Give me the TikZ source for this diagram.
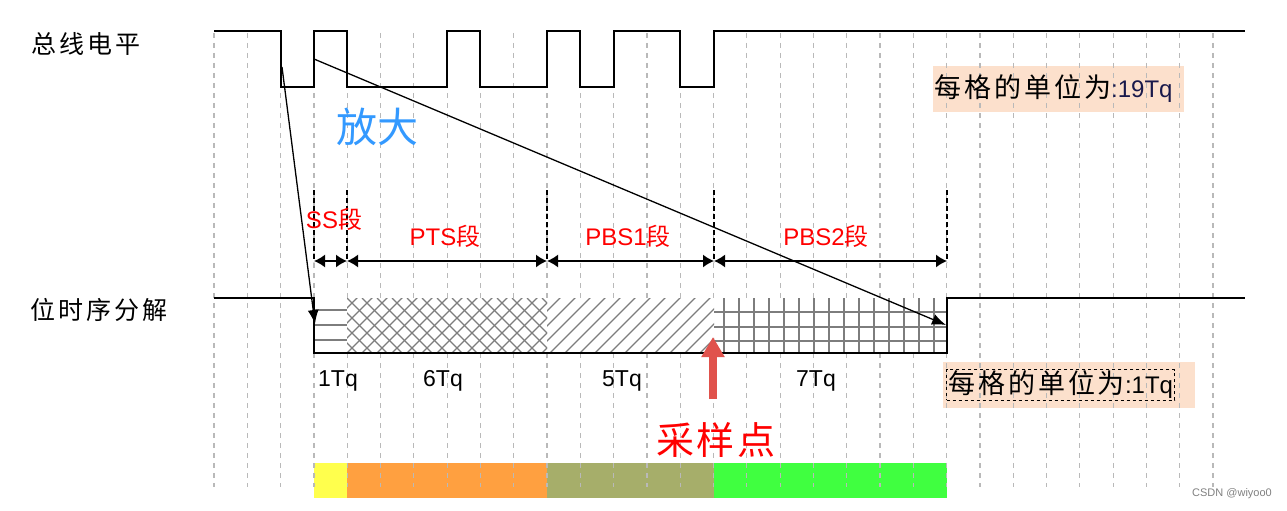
\documentclass[tikz,border=0pt]{standalone}
\usepackage{fontspec}
\setmainfont{Liberation Sans}
\newfontfamily\cjk{Noto Sans CJK SC}
\usetikzlibrary{arrows.meta}
\definecolor{peach}{RGB}{252,224,204}
\definecolor{gridgray}{RGB}{185,185,185}
\definecolor{hatchgray}{RGB}{125,125,125}
\definecolor{bblue}{RGB}{51,153,255}
\definecolor{arrowred}{RGB}{224,82,76}
\definecolor{cyellow}{RGB}{255,255,77}
\definecolor{corange}{RGB}{255,160,64}
\definecolor{colive}{RGB}{166,174,106}
\definecolor{cgreen}{RGB}{64,255,64}
\definecolor{navy}{RGB}{25,25,75}
\newcommand\myg{\kern3pt}
\begin{document}
\begin{tikzpicture}[x=1pt,y=-1pt,
  gridline/.style={gridgray, line width=1.2pt, dash pattern=on 5pt off 5pt},
  marker/.style={black, line width=1.3pt, dash pattern=on 5pt off 3pt},
  signal/.style={black, line width=2pt},
  hatch/.style={hatchgray, line width=1.1pt},
  dim/.style={black, line width=1.5pt, {Latex[length=11pt,width=13pt]}-{Latex[length=11pt,width=13pt]}},
  zoomline/.style={black, line width=1.3pt, -{Latex[length=14pt,width=11pt]}},
  seglabel/.style={text=red, font=\fontsize{24}{24}\selectfont, inner sep=0pt},
  tqlabel/.style={font=\fontsize{23}{23}\selectfont, inner sep=0pt},
  sidelabel/.style={font=\cjk\fontsize{25}{25}\selectfont, inner sep=0pt, anchor=west},
  unitlabel/.style={font=\fontsize{27}{27}\selectfont, inner sep=0pt},
]
\useasboundingbox (0,0) rectangle (1287,511);
% background boxes
\fill[peach] (933,66) rectangle (1184,112);
\fill[peach] (943,362) rectangle (1195,408);
% colour bar
\fill[cyellow] (314,463) rectangle (347,498);
\fill[corange] (347,463) rectangle (547,498);
\fill[colive] (547,463) rectangle (714,498);
\fill[cgreen] (714,463) rectangle (947,498);
% grid
\foreach \k in {0,...,30} \draw[gridline] ({214+33.3*\k},33) -- ({214+33.3*\k},487);
% bit area
\fill[white] (314,298) rectangle (947,353);
\foreach \yy in {310,325,340} \draw[hatch] (314,\yy) -- (347,\yy);
\begin{scope}
\clip (347,298) rectangle (547,353);
\foreach \i in {0,...,18} {
  \draw[hatch] ({287+15*\i},353) -- ++(60,-60);
  \draw[hatch] ({287+15*\i},298) -- ++(60,60);
}
\end{scope}
\begin{scope}
\clip (547,298) rectangle (714,353);
\foreach \i in {0,...,15} \draw[hatch] ({490+15*\i},353) -- ++(60,-60);
\end{scope}
\foreach \i in {0,...,14} \draw[hatch] ({724+15*\i},298) -- ({724+15*\i},353);
\foreach \yy in {312,327,341} \draw[hatch] (714,\yy) -- (947,\yy);
% signals
\draw[signal] (214,31) -- (281,31) -- (281,87) -- (314,87) -- (314,31) -- (347,31) -- (347,87)
  -- (447,87) -- (447,31) -- (480,31) -- (480,87) -- (547,87) -- (547,31) -- (580,31) -- (580,87)
  -- (614,87) -- (614,31) -- (680,31) -- (680,87) -- (714,87) -- (714,31) -- (1245,31);
\draw[signal] (214,298) -- (314,298) -- (314,353) -- (947,353) -- (947,298) -- (1245,298);
% segment markers
\foreach \xx in {314,347,547,714,947} \draw[marker] (\xx,190) -- (\xx,262);
\coordinate (b0) at (314,261);
\coordinate (b1) at (347,261);
\coordinate (b2) at (547,261);
\coordinate (b3) at (714,261);
\coordinate (b4) at (947,261);
\draw[dim] (b0) -- (b1);
\draw[dim] (b1) -- (b2);
\draw[dim] (b2) -- (b3);
\draw[dim] (b3) -- (b4);
% zoom lines
\coordinate (z1s) at (282,67);
\coordinate (z1e) at (315,324);
\coordinate (z2s) at (314,59);
\coordinate (z2e) at (946,325);
\draw[zoomline] (z1s) -- (z1e);
\draw[zoomline] (z2s) -- (z2e);
% labels
\node[sidelabel] (bus) at (31,44) {总\myg 线\myg 电\myg 平};
\node[sidelabel] (bit) at (30,310) {位\myg 时\myg 序\myg 分\myg 解};
\node[text=bblue, font=\cjk\fontsize{41}{41}\selectfont, inner sep=0pt] (zoom) at (377,127) {放大};
\node[seglabel] (ss) at (334,219) {SS{\cjk 段}};
\node[seglabel] (pts) at (445,236) {PTS{\cjk 段}};
\node[seglabel] (pbs1) at (628,236) {PBS1{\cjk 段}};
\node[seglabel] (pbs2) at (826,236) {PBS2{\cjk 段}};
\node[tqlabel] (t1) at (338,381) {1Tq};
\node[tqlabel] (t6) at (443,381) {6Tq};
\node[tqlabel] (t5) at (622,381) {5Tq};
\node[tqlabel] (t7) at (816,381) {7Tq};
\node[unitlabel, anchor=west] (u19) at (934,89) {{\cjk 每\myg 格\myg 的\myg 单\myg 位\myg 为}\textcolor{navy}{\fontsize{24}{24}\selectfont :19Tq}};
\node[unitlabel, draw, dashed, line width=1pt, inner sep=1.5pt, anchor=west] (u1) at (946,385) {{\cjk 每\myg 格\myg 的\myg 单\myg 位\myg 为}\fontsize{24}{24}\selectfont :1Tq};
% sampling point
\coordinate (sp0) at (713,399);
\coordinate (sp1) at (713,337);
\draw[arrowred, line width=8pt, -{Triangle[length=20pt,width=22pt]}] (sp0) -- (sp1);
\node[text=red, font=\cjk\fontsize{38}{38}\selectfont, inner sep=0pt] (sample) at (716,440) {采\myg 样\myg 点};
\node[text=gray, font=\fontsize{11}{11}\selectfont, inner sep=0pt, anchor=east] (wm) at (1272,494) {CSDN @wiyoo0};
\end{tikzpicture}
\end{document}
